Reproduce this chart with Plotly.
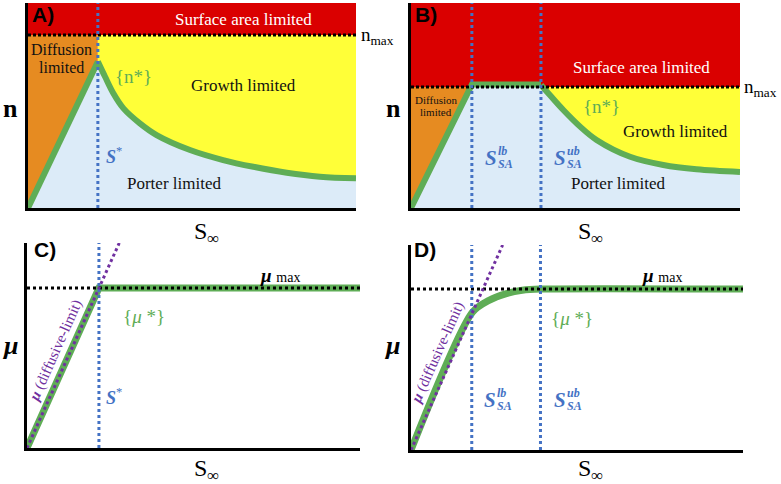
import plotly.graph_objects as go

W, H = 781, 484

# ---------------- data (schematic units 0..10) ----------------
# Panel A
A_s_star = 2.13
A_n_max = 8.44
A_peak = 7.14
A_curve_x = [2.13, 2.35, 2.60, 2.91, 3.41, 3.92, 4.94, 5.95, 6.87, 7.89, 8.90, 10.0]
A_curve_y = [7.14, 6.40, 5.60, 4.86, 4.13, 3.56, 2.83, 2.34, 2.01, 1.72, 1.53, 1.45]

# Panel B
B_s_lb = 1.85
B_s_ub = 3.95
B_n_max = 5.90
B_plateau = 6.02
B_curve_x = [3.95, 4.22, 4.63, 5.14, 5.64, 6.66, 7.67, 8.68, 10.0]
B_curve_y = [6.00, 5.51, 4.78, 3.97, 3.32, 2.50, 2.10, 1.89, 1.76]

# Panel C
C_s_star = 2.16
C_mu_max = 7.80
C_diff_x = [0.0, 2.77]
C_diff_y = [0.0, 10.0]

# Panel D
D_s_lb = 1.83
D_s_ub = 3.90
D_mu_max = 7.85
D_diff_x = [0.0, 2.76]
D_diff_y = [0.0, 10.0]
D_curve_x = [0.0, 1.85, 2.35, 2.85, 3.35, 3.90, 10.0]
D_curve_y = [0.0, 6.72, 7.30, 7.62, 7.79, 7.85, 7.85]

RED = "#da0000"
ORANGE = "#e68b21"
YELLOW = "#ffff38"
LBLUE = "#dcebf8"
GREEN = "#5fad56"
BLUE = "#4472c4"
PURPLE = "#7030a0"
SERIF = "Liberation Serif"

def px(p):
    return p / W

def py(p):
    return 1 - p / H

fig = go.Figure()

def poly(xs, ys, color, ax):
    fig.add_trace(go.Scatter(x=xs, y=ys, fill="toself", fillcolor=color, mode="lines",
                             line=dict(width=0, color=color), hoverinfo="skip",
                             showlegend=False, xaxis="x" + ax, yaxis="y" + ax))

def line(xs, ys, color, width, dash=None, ax="", shape="linear", smoothing=0.8):
    fig.add_trace(go.Scatter(x=xs, y=ys, mode="lines",
                             line=dict(color=color, width=width, dash=dash, shape=shape, smoothing=smoothing),
                             hoverinfo="skip", showlegend=False, xaxis="x" + ax, yaxis="y" + ax))

# ---------------- Panel A ----------------
ax = ""
poly([0, 10, 10, 0], [A_n_max, A_n_max, 10, 10], RED, ax)
poly([0, A_s_star, A_s_star, 0], [0, A_peak, A_n_max, A_n_max], ORANGE, ax)
poly(A_curve_x + [10, A_s_star], A_curve_y + [A_n_max, A_n_max], YELLOW, ax)
poly([0] + A_curve_x + [10], [0] + A_curve_y + [0], LBLUE, ax)
line([0, A_s_star], [0, A_peak], GREEN, 6, ax=ax)
line(A_curve_x, A_curve_y, GREEN, 6, ax=ax, shape="spline", smoothing=1.0)
line([0, 10], [A_n_max, A_n_max], "black", 3, "3px,2px", ax)
line([A_s_star, A_s_star], [0, 10], BLUE, 3, "3px,3px", ax)

# ---------------- Panel B ----------------
ax = "2"
poly([0, 10, 10, 0], [B_n_max, B_n_max, 10, 10], RED, ax)
poly([0, B_s_lb, 0], [0, B_n_max, B_n_max], ORANGE, ax)
poly(B_curve_x + [10, B_s_ub], B_curve_y + [B_n_max, B_n_max], YELLOW, ax)
poly([0, B_s_lb] + B_curve_x + [10], [0, B_n_max] + B_curve_y + [0], LBLUE, ax)
line([0, B_s_lb, B_s_ub], [0, B_plateau, B_plateau], GREEN, 6, ax=ax)
line(B_curve_x, B_curve_y, GREEN, 6, ax=ax, shape="spline", smoothing=1.0)
line([0, 10], [B_n_max, B_n_max], "black", 3, "3px,2px", ax)
line([B_s_lb, B_s_lb], [0, 10], BLUE, 3, "3px,3px", ax)
line([B_s_ub, B_s_ub], [0, 10], BLUE, 3, "3px,3px", ax)

# ---------------- Panel C ----------------
ax = "3"
line([0, C_s_star, 10], [0, C_mu_max, C_mu_max], GREEN, 7, ax=ax)
line([0, 10], [C_mu_max, C_mu_max], "black", 3, "3px,3px", ax)
line([C_s_star, C_s_star], [0, 10], BLUE, 3, "3px,3px", ax)
line(C_diff_x, C_diff_y, PURPLE, 3, "3px,3px", ax)

# ---------------- Panel D ----------------
ax = "4"
line(D_curve_x, D_curve_y, GREEN, 7, ax=ax, shape="spline")
line([0, 10], [D_mu_max, D_mu_max], "black", 3, "3px,3px", ax)
line([D_s_lb, D_s_lb], [0, 10], BLUE, 3, "3px,3px", ax)
line([D_s_ub, D_s_ub], [0, 10], BLUE, 3, "3px,3px", ax)
line(D_diff_x, D_diff_y, PURPLE, 3, "3px,3px", ax)

# ---------------- axes ----------------
domains = {
    "": ((28, 356), (3, 208)),
    "2": ((411, 740), (3, 208)),
    "3": ((27, 360), (243, 448)),
    "4": ((411, 743), (245, 450)),
}
layout_axes = {}
for k, ((x0, x1), (y0, y1)) in domains.items():
    common = dict(range=[0, 10], showgrid=False, zeroline=False, showticklabels=False,
                  ticks="", showline=True, linecolor="black", linewidth=3, fixedrange=True)
    xa = dict(common, domain=[px(x0), px(x1)], anchor="y" + k)
    ya = dict(common, domain=[py(y1), py(y0)], anchor="x" + k)
    layout_axes["xaxis" + k] = xa
    layout_axes["yaxis" + k] = ya

fig.update_layout(**layout_axes)

# ---------------- annotations ----------------
ann = []

def text(x, y, t, size=16, color="#111111", family=SERIF, xanchor="center", angle=0):
    ann.append(dict(x=px(x), y=py(y), xref="paper", yref="paper", text=t, showarrow=False,
                    font=dict(size=size, color=color, family=family), xanchor=xanchor,
                    yanchor="middle", textangle=angle))

# panel labels
for lab, x, y in [("A)", 30, 15), ("B)", 413, 15), ("C)", 32, 249), ("D)", 412, 249)]:
    text(x, y, "<b>" + lab + "</b>", size=21, color="black", family="Liberation Sans", xanchor="left")

# A texts
text(243, 19, "Surface area limited", 17, "white")
text(62, 50, "Diffusion", 16)
text(62, 67, "limited", 16)
text(243, 86, "Growth limited", 17)
text(133, 77, "{n*}", 19, GREEN)
text(114, 155, "<b><i>S</i></b><sup>*</sup>", 18, BLUE)
text(174, 183, "Porter limited", 17)
text(359, 36, "n<sub>max</sub>", 19, "black", xanchor="left")
text(10, 108, "<b>n</b>", 26, "black")
text(207, 233, "S<sub>∞</sub>", 24, "black")

# B texts
text(641, 68, "Surface area limited", 17, "white")
text(436, 100, "Diffusion", 11)
text(436, 112, "limited", 11)
text(601, 106, "{n*}", 19, GREEN)
text(675, 131, "Growth limited", 17)
text(618, 183, "Porter limited", 17)
text(742, 88, "n<sub>max</sub>", 19, "black", xanchor="left")
text(393, 108, "<b>n</b>", 26, "black")
text(590, 233, "S<sub>∞</sub>", 24, "black")
for sx, lab in [(483, "lb"), (552, "ub")]:
    text(sx, 158, "<b><i>S</i></b>", 21, BLUE, xanchor="left")
    text(sx + 13, 151, "<b><i>" + lab + "</i></b>", 12, BLUE, xanchor="left")
    text(sx + 13, 164, "<b><i>SA</i></b>", 12, BLUE, xanchor="left")

# C texts
text(258, 275, "<b><i>μ</i></b> <span style='font-size:14px'>max</span>", 19, "black", xanchor="left")
text(144, 316, "{<i>μ</i> *}", 19, GREEN)
text(114, 396, "<b><i>S</i></b><sup>*</sup>", 18, BLUE)
text(55, 351, "<b><i>μ</i></b> (diffusive-limit)", 15, PURPLE, angle=-66)
text(10, 345, "<b><i>μ</i></b>", 26, "black")
text(207, 470, "S<sub>∞</sub>", 24, "black")

# D texts
text(640, 275, "<b><i>μ</i></b> <span style='font-size:14px'>max</span>", 19, "black", xanchor="left")
text(572, 318, "{<i>μ</i> *}", 19, GREEN)
for sx, lab in [(482, "lb"), (552, "ub")]:
    text(sx, 400, "<b><i>S</i></b>", 21, BLUE, xanchor="left")
    text(sx + 13, 393, "<b><i>" + lab + "</i></b>", 12, BLUE, xanchor="left")
    text(sx + 13, 406, "<b><i>SA</i></b>", 12, BLUE, xanchor="left")
text(437, 353, "<b><i>μ</i></b> (diffusive-limit)", 15, PURPLE, angle=-66)
text(392, 345, "<b><i>μ</i></b>", 26, "black")
text(590, 470, "S<sub>∞</sub>", 24, "black")

fig.update_layout(width=W, height=H, margin=dict(l=0, r=0, t=0, b=0),
                  paper_bgcolor="white", plot_bgcolor="white", annotations=ann,
                  showlegend=False)

fig.write_html("out.html", config={"displayModeBar": False},
               post_script="document.body.style.margin='0px';document.body.style.overflow='hidden';")
